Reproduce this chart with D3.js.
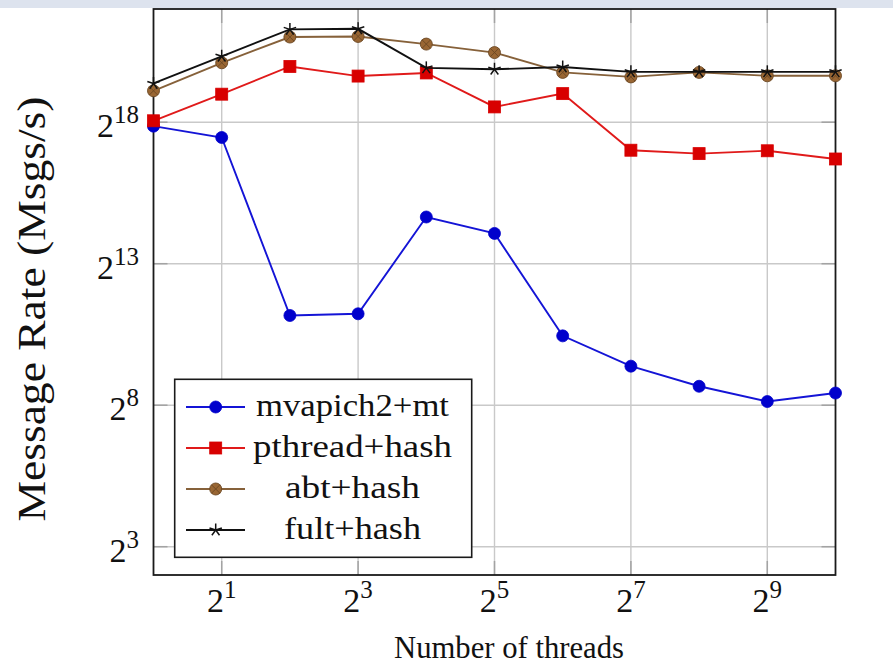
<!DOCTYPE html>
<html>
<head>
<meta charset="utf-8">
<script src="https://cdn.jsdelivr.net/npm/d3@7"></script>
<style>
  html, body { margin: 0; padding: 0; background: #ffffff; }
  svg { display: block; }
  text { font-family: "Liberation Serif", "DejaVu Serif", serif; fill: #111; }
</style>
</head>
<body>
<svg id="chart" width="893" height="666"></svg>
<script>
// ---- data ----
const threads = [1, 2, 4, 8, 16, 32, 64, 128, 256, 512, 1024];
const mvapich = [238000, 180300, 2304, 2402, 25710, 17200, 1399, 666, 407, 280, 345];
const pthread = [271400, 520700, 1027000, 811400, 875700, 381200, 527900, 131980, 121450, 130170, 106460];
const abt     = [565800, 1123900, 2111700, 2141200, 1775800, 1442400, 887900, 794700, 887900, 817000, 817000];
const fult    = [677600, 1318100, 2546400, 2581800, 992000, 958200, 1012900, 900300, 900300, 900300, 900300];
const seriesNames = ["mvapich2+mt", "pthread+hash", "abt+hash", "fult+hash"];
const xTicks = [2, 8, 32, 128, 512];
const yTicks = [8, 256, 8192, 262144];

// ---- layout ----
const W = 893, H = 666;
const L = 153.5, R = 835.5, T = 9, B = 575;
const svg = d3.select("#chart");

svg.append("rect").attr("x", 0).attr("y", 0).attr("width", W).attr("height", H).attr("fill", "#fff");
svg.append("rect").attr("x", 0).attr("y", 0).attr("width", W).attr("height", 8).attr("fill", "#dde3ee");

const x = d3.scaleLog().base(2).domain([1, 1024]).range([L, R]);
const y = d3.scaleLog().base(2).domain([4, Math.pow(2, 22)]).range([B, T]);

// grid
const grid = svg.append("g");
grid.selectAll("line.vx").data(xTicks).join("line")
  .attr("x1", d => x(d)).attr("x2", d => x(d)).attr("y1", T).attr("y2", B)
  .attr("stroke", "#c9c9c9").attr("stroke-width", 1.4);
grid.selectAll("line.hy").data(yTicks).join("line")
  .attr("y1", d => y(d)).attr("y2", d => y(d)).attr("x1", L).attr("x2", R)
  .attr("stroke", "#c9c9c9").attr("stroke-width", 1.4);

// tick marks (inside, both sides)
const tk = 14;
const ticks = svg.append("g").attr("stroke", "#a3a3a3").attr("stroke-width", 1.5);
xTicks.forEach(d => {
  ticks.append("line").attr("x1", x(d)).attr("x2", x(d)).attr("y1", B).attr("y2", B - tk);
  ticks.append("line").attr("x1", x(d)).attr("x2", x(d)).attr("y1", T).attr("y2", T + tk);
});
yTicks.forEach(d => {
  ticks.append("line").attr("y1", y(d)).attr("y2", y(d)).attr("x1", L).attr("x2", L + tk);
  ticks.append("line").attr("y1", y(d)).attr("y2", y(d)).attr("x1", R).attr("x2", R - tk);
});

// frame
svg.append("rect").attr("x", L).attr("y", T).attr("width", R - L).attr("height", B - T)
  .attr("fill", "none").attr("stroke", "#1a1a1a").attr("stroke-width", 1.8);

// tick labels
const log2 = v => Math.round(Math.log2(v));
xTicks.forEach(d => {
  const t = svg.append("text").attr("x", x(d)).attr("y", 612).attr("text-anchor", "middle").attr("font-size", 34);
  t.append("tspan").text("2");
  t.append("tspan").attr("dy", -14).attr("font-size", 25).text(log2(d));
});
yTicks.forEach(d => {
  const t = svg.append("text").attr("x", 139).attr("y", y(d) + 15).attr("text-anchor", "end").attr("font-size", 34);
  t.append("tspan").text("2");
  t.append("tspan").attr("dy", -14).attr("font-size", 25).text(log2(d));
});

// axis titles
svg.append("text").attr("x", 509).attr("y", 658).attr("text-anchor", "middle")
  .attr("font-size", 31).attr("textLength", 230).attr("lengthAdjust", "spacingAndGlyphs")
  .text("Number of threads");
svg.append("text").attr("transform", "translate(45,309) rotate(-90)").attr("text-anchor", "middle")
  .attr("font-size", 39).attr("textLength", 425).attr("lengthAdjust", "spacingAndGlyphs")
  .text("Message Rate (Msgs/s)");

// series
const styles = [
  { data: mvapich, line: "#1414d6", fill: "#0000cc", stroke: "#0000cc", mark: "circle" },
  { data: pthread, line: "#e01a1a", fill: "#d80000", stroke: "#d80000", mark: "square" },
  { data: abt,     line: "#86613a", fill: "#996633", stroke: "#6b4722", mark: "otimes" },
  { data: fult,    line: "#111111", fill: "none",    stroke: "#111111", mark: "star" }
];

function drawMarker(g, s, cx, cy) {
  if (s.mark === "circle") {
    g.append("circle").attr("cx", cx).attr("cy", cy).attr("r", 6).attr("fill", s.fill).attr("stroke", s.stroke).attr("stroke-width", 0.8);
  } else if (s.mark === "square") {
    g.append("rect").attr("x", cx - 6).attr("y", cy - 6).attr("width", 12).attr("height", 12).attr("fill", s.fill).attr("stroke", s.stroke).attr("stroke-width", 0.8);
  } else if (s.mark === "otimes") {
    g.append("circle").attr("cx", cx).attr("cy", cy).attr("r", 6).attr("fill", s.fill).attr("stroke", s.stroke).attr("stroke-width", 0.9);
    const k = 6 * Math.SQRT1_2;
    g.append("line").attr("x1", cx - k).attr("y1", cy - k).attr("x2", cx + k).attr("y2", cy + k).attr("stroke", s.stroke).attr("stroke-width", 0.9);
    g.append("line").attr("x1", cx - k).attr("y1", cy + k).attr("x2", cx + k).attr("y2", cy - k).attr("stroke", s.stroke).attr("stroke-width", 0.9);
  } else if (s.mark === "star") {
    for (let i = 0; i < 5; i++) {
      const a = -Math.PI / 2 + i * 2 * Math.PI / 5;
      g.append("line").attr("x1", cx).attr("y1", cy).attr("x2", cx + 6.5 * Math.cos(a)).attr("y2", cy + 6.5 * Math.sin(a))
        .attr("stroke", s.stroke).attr("stroke-width", 1.5);
    }
  }
}

const lineGen = d3.line().x((d, i) => x(threads[i])).y(d => y(d));
styles.forEach(s => {
  const g = svg.append("g");
  g.append("path").attr("d", lineGen(s.data)).attr("fill", "none").attr("stroke", s.line).attr("stroke-width", 1.9);
  s.data.forEach((v, i) => drawMarker(g, s, x(threads[i]), y(v)));
});

// legend
const lg = svg.append("g");
lg.append("rect").attr("x", 174.7).attr("y", 379.3).attr("width", 297).attr("height", 178)
  .attr("fill", "#fff").attr("stroke", "#1a1a1a").attr("stroke-width", 1.6);
const rowY = [407, 448, 489, 530];
const labelLen = [193, 199, 135, 137];
styles.forEach((s, i) => {
  const ry = rowY[i];
  lg.append("line").attr("x1", 186).attr("x2", 245).attr("y1", ry).attr("y2", ry).attr("stroke", s.line).attr("stroke-width", 1.9);
  drawMarker(lg, s, 215.7, ry);
  lg.append("text").attr("x", 352.5).attr("y", ry + 9).attr("text-anchor", "middle").attr("font-size", 32)
    .attr("textLength", labelLen[i]).attr("lengthAdjust", "spacingAndGlyphs").text(seriesNames[i]);
});
</script>
</body>
</html>
